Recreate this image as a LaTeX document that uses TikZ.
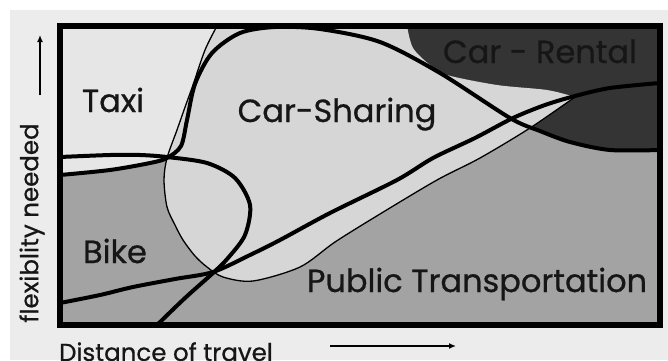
\documentclass[tikz,border=0pt]{standalone}
\usepackage{fontspec}
\newfontfamily\mapfont[FakeBold=0.7]{Poppins}
\usetikzlibrary{arrows.meta}

\begin{document}
\begin{tikzpicture}[x=1pt, y=-1pt,
    % Styles
    zonelabel/.style={
        font=\mapfont\fontsize{32}{32}\selectfont,
        text=inkgray, inner sep=0pt, anchor=base
    },
    axislabel/.style={
        font=\mapfont\fontsize{24.5}{24.5}\selectfont,
        text=inkgray, inner sep=0pt
    },
    thickline/.style={line width=4pt, color=black},
    thinline/.style={line width=1.3pt, color=black},
    framebox/.style={line width=6pt, color=black},
    axisarrow/.style={
        -{Latex[length=7pt, width=6pt]},
        line width=1.4pt, color=black
    },
]
% Define colors
\definecolor{paper}{RGB}{236,236,236}
\definecolor{taxifill}{RGB}{230,230,230}
\definecolor{sharingfill}{RGB}{214,214,214}
\definecolor{transitfill}{RGB}{163,163,163}
\definecolor{rentalfill}{RGB}{52,52,52}
\definecolor{inkgray}{RGB}{22,22,22}

\useasboundingbox (0,0) rectangle (668,360);
\fill[white] (0,0) rectangle (668,360);
\fill[paper] (10,10) rectangle (668,360);

% Taxi zone (background of the frame)
\fill[taxifill] (60,26) rectangle (660,325);

% Bike / public transportation zone (below the taxi line)
\fill[transitfill] plot[smooth] coordinates {(60,175) (110,170) (150,163) (167,158) (181,146) (187,120) (195,84) (212,53) (240,33) (275,27) (320,29) (380,42) (440,73) (510,118) (540,131) (570,142) (610,150) (660,150)}
    -- (660,325) -- (60,325) -- cycle;

% Car rental zone (above the taxi line, right part)
\begin{scope}
    \clip plot[smooth] coordinates {(60,175) (110,170) (150,163) (167,158) (181,146) (187,120) (195,84) (212,53) (240,33) (275,27) (320,29) (380,42) (440,73) (510,118) (540,131) (570,142) (610,150) (660,150)}
        -- (660,26) -- (60,26) -- cycle;
    \fill[rentalfill] (380,26) rectangle (660,150);
\end{scope}

% Car sharing blob
\fill[sharingfill] plot[smooth] coordinates {(217,26) (205,50) (193,85) (184,110) (177,130) (167,158) (164,180) (167,207) (175,225) (183,240) (195,256) (207,267) (223,277) (253,281) (300,267) (335,242) (380,214) (437,180) (480,158) (530,128) (575,97)}
    -- plot[smooth] coordinates {(575,97) (547,90) (497,85) (447,75) (430,65) (413,48) (407,26)}
    -- cycle;
\draw[thinline] plot[smooth] coordinates {(217,26) (205,50) (193,85) (184,110) (177,130) (167,158) (164,180) (167,207) (175,225) (183,240) (195,256) (207,267) (223,277) (253,281) (300,267) (335,242) (380,214) (437,180) (480,158) (530,128) (575,97)};

% Thick boundaries
\draw[thickline] plot[smooth] coordinates {(60,175) (110,170) (150,163) (167,158) (181,146) (187,120) (195,84) (212,53) (240,33) (275,27) (320,29) (380,42) (440,73) (510,118) (540,131) (570,142) (610,150) (660,150)};
\draw[thickline] plot[smooth] coordinates {(60,157) (110,155) (140,155) (167,157) (207,163) (235,178) (250,205) (245,235) (228,258) (213,273) (185,298) (157,325)};
\draw[thickline] plot[smooth] coordinates {(60,303) (100,295) (133,287) (175,279) (213,272) (250,255) (280,240) (330,213) (397,180) (433,158) (475,138) (513,118) (545,105) (575,96) (610,88) (660,83)};

% Frame
\draw[framebox] (60,26) rectangle (660,325);

% Zone labels
\node[zonelabel] (taxi) at (113,112) {Taxi};
\node[zonelabel] (sharing) at (337,122) {Car-Sharing};
\node[zonelabel] (rental) at (540,63) {Car - Rental};
\node[zonelabel] (bike) at (115,263) {Bike};
\node[zonelabel] (transit) at (477,292) {Public Transportation};

% Axes
\node[axislabel, rotate=90] (flex) at (32,223) {flexiblity needed};
\node[axislabel, anchor=base] (dist) at (166,361) {Distance of travel};
\coordinate (yfoot) at (40,95);
\coordinate (yhead) at (40,35);
\draw[axisarrow] (yfoot) -- (yhead);
\coordinate (xfoot) at (330,346);
\coordinate (xhead) at (456,346);
\draw[axisarrow] (xfoot) -- (xhead);

\end{tikzpicture}
\end{document}
